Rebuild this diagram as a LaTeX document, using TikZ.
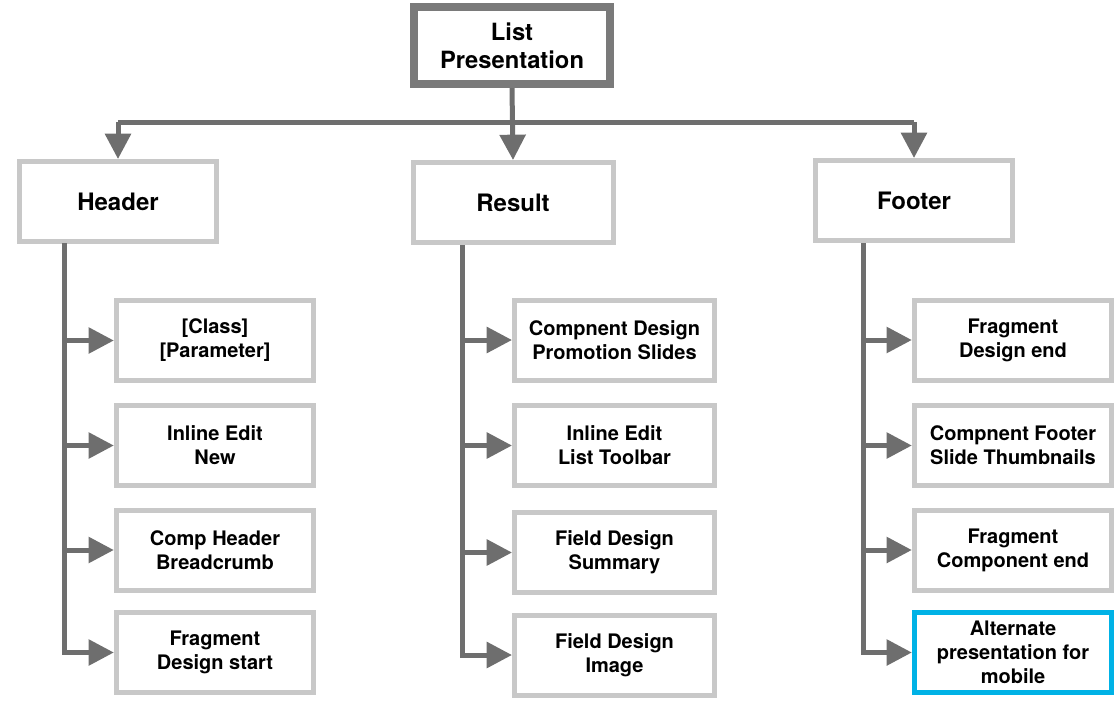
\documentclass[tikz,border=0pt]{standalone}
\usepackage{fontspec}
\setmainfont{TeX Gyre Heros}
\usepackage{xcolor}
\usetikzlibrary{arrows.meta,positioning}

\definecolor{lineGray}{HTML}{6E6E6E}
\definecolor{rootGray}{HTML}{7A7A7A}
\definecolor{boxGray}{HTML}{C8C8C8}
\definecolor{mobileBlue}{HTML}{00B2E6}

\begin{document}
\begin{tikzpicture}[
    x=0.75pt, y=-0.75pt,
    font=\bfseries,
    box/.style={draw=boxGray, line width=3.75pt, fill=white, align=center,
                minimum width=148pt, minimum height=60pt, inner sep=2pt,
                font=\fontsize{15}{18}\selectfont\bfseries},
    section/.style={box, font=\fontsize{18}{21}\selectfont\bfseries},
    root/.style={box, draw=rootGray, line width=6pt, minimum width=147pt,
                 minimum height=58pt, font=\fontsize{17.8}{21}\selectfont\bfseries},
    mobile/.style={box, draw=mobileBlue},
    arrow/.style={-{Triangle[length=19pt, width=19pt]}, line width=3.75pt, lineGray},
    bus/.style={line width=3.75pt, lineGray},
  ]
    \useasboundingbox (0,0) rectangle (1120,708);

    \node[root]    (list) at (512,45.5)  {List\\Presentation};

    \node[section] (hdr)  at (118,201.5) {Header};
    \node[section, minimum width=150pt] (res) at (513,202.5) {Result};
    \node[section] (ftr)  at (914,200.5) {Footer};

    % header column
    \node[box] (hcls)  at (215,340.5) {{[Class]}\\{[Parameter]}};
    \node[box] (hedit) at (215,445.5) {Inline Edit\\New};
    \node[box] (hcomp) at (215,550)   {Comp Header\\Breadcrumb};
    \node[box] (hfrag) at (215,652.5) {Fragment\\Design start};

    % result column
    \node[box, minimum width=150pt] (rprom) at (614.5,340)   {Compnent Design\\Promotion Slides};
    \node[box, minimum width=150pt] (redit) at (614.5,445.5) {Inline Edit\\List Toolbar};
    \node[box, minimum width=150pt] (rsum)  at (614.5,552.5) {Field Design\\Summary};
    \node[box, minimum width=150pt] (rimg)  at (614.5,655)   {Field Design\\Image};

    % footer column
    \node[box]    (fend)  at (1013,340)   {Fragment\\Design end};
    \node[box]    (fslid) at (1013,445.5) {Compnent Footer\\Slide Thumbnails};
    \node[box]    (fcomp) at (1013,550)   {Fragment\\Component end};
    \node[mobile] (fmob)  at (1013,652.5) {Alternate\\presentation for\\mobile};

    % top level
    \coordinate (split) at (513,122);
    \draw[bus] (hdr.north |- split) -- (ftr.north |- split);
    \draw[arrow] (list.south) -- (res.north);
    \draw[arrow] (hdr.north |- split) -- (hdr.north);
    \draw[arrow] (ftr.north |- split) -- (ftr.north);

    % spines
    \coordinate (hspine) at (64,243);
    \coordinate (rspine) at (462,245);
    \coordinate (fspine) at (863,243);

    \foreach \c in {hcls,hedit,hcomp,hfrag}
      \draw[arrow] (hspine) |- (\c.west);
    \foreach \c in {rprom,redit,rsum,rimg}
      \draw[arrow] (rspine) |- (\c.west);
    \foreach \c in {fend,fslid,fcomp,fmob}
      \draw[arrow] (fspine) |- (\c.west);
  \end{tikzpicture}
\end{document}
